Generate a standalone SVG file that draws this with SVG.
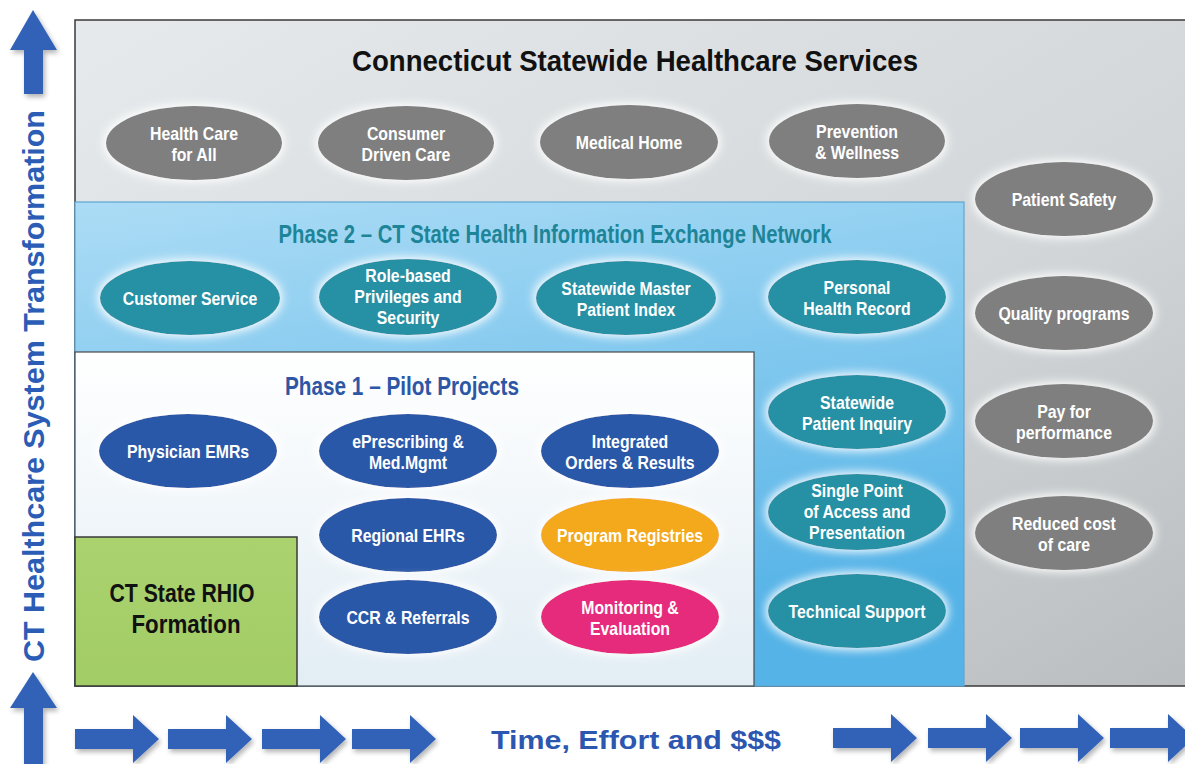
<svg xmlns="http://www.w3.org/2000/svg" width="1185" height="764" viewBox="0 0 1185 764">
<defs>
<linearGradient id="gOuter" x1="0" y1="0" x2="1" y2="1">
<stop offset="0" stop-color="#e6eaec"/><stop offset="0.6" stop-color="#d2d6d8"/><stop offset="1" stop-color="#b9bdbf"/>
</linearGradient>
<linearGradient id="gP2" x1="0" y1="0" x2="0.3" y2="1">
<stop offset="0" stop-color="#acdcf5"/><stop offset="1" stop-color="#55b3e7"/>
</linearGradient>
<linearGradient id="gP1" x1="0" y1="0" x2="0" y2="1">
<stop offset="0" stop-color="#ffffff"/><stop offset="1" stop-color="#e2edf4"/>
</linearGradient>
<linearGradient id="gGreen" x1="0" y1="0" x2="0" y2="1">
<stop offset="0" stop-color="#aad36f"/><stop offset="1" stop-color="#a2cc66"/>
</linearGradient>
<filter id="glow" x="-30%" y="-50%" width="160%" height="200%">
<feMorphology in="SourceAlpha" operator="dilate" radius="2" result="d"/>
<feGaussianBlur in="d" stdDeviation="5" result="b"/>
<feFlood flood-color="#ffffff" flood-opacity="0.95"/>
<feComposite in2="b" operator="in" result="g"/>
<feMerge><feMergeNode in="g"/><feMergeNode in="SourceGraphic"/></feMerge>
</filter>
<filter id="shadow" x="-20%" y="-20%" width="140%" height="150%">
<feGaussianBlur in="SourceAlpha" stdDeviation="2.5"/>
<feOffset dx="2" dy="3" result="o"/>
<feComponentTransfer><feFuncA type="linear" slope="0.3"/></feComponentTransfer>
<feMerge><feMergeNode/><feMergeNode in="SourceGraphic"/></feMerge>
</filter>
<path id="rarrow" d="M0,-10 H58 V-24 L84,0 L58,24 V10 H0 Z"/>
<style>
.gray{fill:#7f7f7f}
.teal{fill:#2690a4}
.blue{fill:#2c59a8}
.orange{fill:#f4a81f}
.pink{fill:#e62b7c}
.ell{filter:url(#glow)}
.lbl{font-family:"Liberation Sans",Arial,sans-serif;font-weight:bold;font-size:18px;fill:#ffffff;text-anchor:middle}
.cond{font-family:"Liberation Sans",Arial,sans-serif;font-weight:bold;text-anchor:middle}
.arrow{fill:#3262b8;filter:url(#shadow)}
</style>
</defs>
<rect width="1185" height="764" fill="#ffffff"/>

<g id="outer-box">
<rect x="75" y="20" width="1120" height="666" fill="url(#gOuter)" stroke="#3a3a3a" stroke-width="1.5"/>
<text class="cond" x="635" y="71" font-size="30" fill="#111111" textLength="566" lengthAdjust="spacingAndGlyphs">Connecticut Statewide Healthcare Services</text>
</g>

<g id="phase2-box">
<rect x="75" y="202" width="889" height="484" fill="url(#gP2)" stroke="#5ea6d3" stroke-width="1.2"/>
<text class="cond" x="555" y="243" font-size="26" fill="#1d8597" textLength="553" lengthAdjust="spacingAndGlyphs">Phase 2 – CT State Health Information Exchange Network</text>
</g>

<g id="phase1-box">
<rect x="75" y="352" width="679" height="334" fill="url(#gP1)" stroke="#4a4a4a" stroke-width="1.2"/>
<text class="cond" x="402" y="395" font-size="26" fill="#2d56a5" textLength="234" lengthAdjust="spacingAndGlyphs">Phase 1 – Pilot Projects</text>
</g>

<g id="rhio-formation">
<rect x="75" y="537" width="222" height="149" fill="url(#gGreen)" stroke="#3a3a3a" stroke-width="1.5"/>
<text class="cond" x="182" y="602" font-size="26" fill="#111111" textLength="145" lengthAdjust="spacingAndGlyphs">CT State RHIO</text>
<text class="cond" x="186" y="633" font-size="26" fill="#111111" textLength="109" lengthAdjust="spacingAndGlyphs">Formation</text>
</g>

<!-- Statewide services (gray) -->
<g id="health-care-for-all" transform="translate(194 143)"><ellipse class="gray ell" rx="88" ry="37"/><text class="lbl" transform="scale(.88 1)"><tspan x="0" y="-3">Health Care</tspan><tspan x="0" y="18">for All</tspan></text></g>
<g id="consumer-driven-care" transform="translate(406 143)"><ellipse class="gray ell" rx="88" ry="37"/><text class="lbl" transform="scale(.88 1)"><tspan x="0" y="-3">Consumer</tspan><tspan x="0" y="18">Driven Care</tspan></text></g>
<g id="medical-home" transform="translate(629 142)"><ellipse class="gray ell" rx="89" ry="37"/><text class="lbl" transform="scale(.88 1)"><tspan x="0" y="7">Medical Home</tspan></text></g>
<g id="prevention-wellness" transform="translate(857 141)"><ellipse class="gray ell" rx="88" ry="37"/><text class="lbl" transform="scale(.88 1)"><tspan x="0" y="-3">Prevention</tspan><tspan x="0" y="18">&amp; Wellness</tspan></text></g>
<g id="patient-safety" transform="translate(1064 199)"><ellipse class="gray ell" rx="89" ry="37"/><text class="lbl" transform="scale(.88 1)"><tspan x="0" y="7">Patient Safety</tspan></text></g>
<g id="quality-programs" transform="translate(1064 313)"><ellipse class="gray ell" rx="89" ry="37"/><text class="lbl" transform="scale(.88 1)"><tspan x="0" y="7">Quality programs</tspan></text></g>
<g id="pay-for-performance" transform="translate(1064 421)"><ellipse class="gray ell" rx="89" ry="37"/><text class="lbl" transform="scale(.88 1)"><tspan x="0" y="-3">Pay for</tspan><tspan x="0" y="18">performance</tspan></text></g>
<g id="reduced-cost" transform="translate(1064 533)"><ellipse class="gray ell" rx="89" ry="37"/><text class="lbl" transform="scale(.88 1)"><tspan x="0" y="-3">Reduced cost</tspan><tspan x="0" y="18">of care</tspan></text></g>

<!-- Phase 2 (teal) -->
<g id="customer-service" transform="translate(190 298)"><ellipse class="teal ell" rx="90" ry="37"/><text class="lbl" transform="scale(.88 1)"><tspan x="0" y="7">Customer Service</tspan></text></g>
<g id="role-based-privileges" transform="translate(408 297)"><ellipse class="teal ell" rx="89" ry="38"/><text class="lbl" transform="scale(.88 1)"><tspan x="0" y="-15">Role-based</tspan><tspan x="0" y="6">Privileges and</tspan><tspan x="0" y="27">Security</tspan></text></g>
<g id="master-patient-index" transform="translate(626 298)"><ellipse class="teal ell" rx="90" ry="37"/><text class="lbl" transform="scale(.88 1)"><tspan x="0" y="-3">Statewide Master</tspan><tspan x="0" y="18">Patient Index</tspan></text></g>
<g id="personal-health-record" transform="translate(857 297)"><ellipse class="teal ell" rx="89" ry="37"/><text class="lbl" transform="scale(.88 1)"><tspan x="0" y="-3">Personal</tspan><tspan x="0" y="18">Health Record</tspan></text></g>
<g id="patient-inquiry" transform="translate(857 412)"><ellipse class="teal ell" rx="89" ry="37"/><text class="lbl" transform="scale(.88 1)"><tspan x="0" y="-3">Statewide</tspan><tspan x="0" y="18">Patient Inquiry</tspan></text></g>
<g id="single-point-access" transform="translate(857 512)"><ellipse class="teal ell" rx="89" ry="38"/><text class="lbl" transform="scale(.88 1)"><tspan x="0" y="-15">Single Point</tspan><tspan x="0" y="6">of Access and</tspan><tspan x="0" y="27">Presentation</tspan></text></g>
<g id="technical-support" transform="translate(857 611)"><ellipse class="teal ell" rx="89" ry="37"/><text class="lbl" transform="scale(.88 1)"><tspan x="0" y="7">Technical Support</tspan></text></g>

<!-- Phase 1 (blue etc.) -->
<g id="physician-emrs" transform="translate(188 451)"><ellipse class="blue ell" rx="89" ry="37"/><text class="lbl" transform="scale(.88 1)"><tspan x="0" y="7">Physician EMRs</tspan></text></g>
<g id="eprescribing" transform="translate(408 451)"><ellipse class="blue ell" rx="89" ry="37"/><text class="lbl" transform="scale(.88 1)"><tspan x="0" y="-3">ePrescribing &amp;</tspan><tspan x="0" y="18">Med.Mgmt</tspan></text></g>
<g id="integrated-orders" transform="translate(630 451)"><ellipse class="blue ell" rx="89" ry="37"/><text class="lbl" transform="scale(.88 1)"><tspan x="0" y="-3">Integrated</tspan><tspan x="0" y="18">Orders &amp; Results</tspan></text></g>
<g id="regional-ehrs" transform="translate(408 535)"><ellipse class="blue ell" rx="89" ry="37"/><text class="lbl" transform="scale(.88 1)"><tspan x="0" y="7">Regional EHRs</tspan></text></g>
<g id="program-registries" transform="translate(630 535)"><ellipse class="orange ell" rx="89" ry="37"/><text class="lbl" transform="scale(.88 1)"><tspan x="0" y="7">Program Registries</tspan></text></g>
<g id="ccr-referrals" transform="translate(408 617)"><ellipse class="blue ell" rx="89" ry="37"/><text class="lbl" transform="scale(.88 1)"><tspan x="0" y="7">CCR &amp; Referrals</tspan></text></g>
<g id="monitoring-evaluation" transform="translate(630 617)"><ellipse class="pink ell" rx="89" ry="37"/><text class="lbl" transform="scale(.88 1)"><tspan x="0" y="-3">Monitoring &amp;</tspan><tspan x="0" y="18">Evaluation</tspan></text></g>

<g id="connectors">
<path class="arrow" d="M24,94 V50 H10 L33,10 L57,50 H43 V94 Z"/>
<path class="arrow" d="M24,770 V708 H10 L33,672 L57,708 H43 V770 Z"/>
<use href="#rarrow" class="arrow" transform="translate(75 739)"/>
<use href="#rarrow" class="arrow" transform="translate(168 739)"/>
<use href="#rarrow" class="arrow" transform="translate(262 739)"/>
<use href="#rarrow" class="arrow" transform="translate(352 739)"/>
<use href="#rarrow" class="arrow" transform="translate(833 738)"/>
<use href="#rarrow" class="arrow" transform="translate(928 738)"/>
<use href="#rarrow" class="arrow" transform="translate(1020 738)"/>
<use href="#rarrow" class="arrow" transform="translate(1110 738)"/>
</g>

<g id="axis-labels">
<text x="0" y="0" transform="translate(44 386) rotate(-90)" font-family="'Liberation Sans',Arial,sans-serif" font-weight="bold" font-size="30" fill="#2b5cb6" text-anchor="middle" textLength="552" lengthAdjust="spacingAndGlyphs">CT Healthcare System Transformation</text>
<text x="636" y="749" font-family="'Liberation Sans',Arial,sans-serif" font-weight="bold" font-size="26" fill="#2c57b0" text-anchor="middle" textLength="290" lengthAdjust="spacingAndGlyphs">Time, Effort and $$$</text>
</g>
</svg>
